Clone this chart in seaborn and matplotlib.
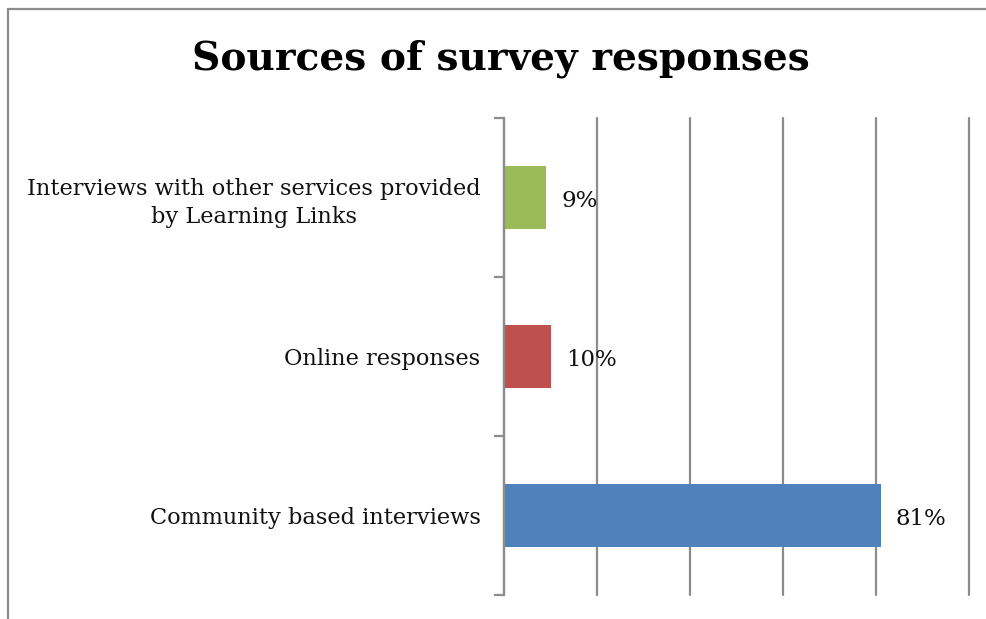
import matplotlib
matplotlib.use("Agg")
import matplotlib.pyplot as plt
from matplotlib.lines import Line2D
from matplotlib.ticker import MultipleLocator, FixedLocator
import seaborn as sns
import pandas as pd

categories = [
    "Interviews with other services provided\nby Learning Links",
    "Online responses",
    "Community based interviews",
]
shares = [9, 10, 81]
bar_colors = ["#9BBB59", "#C0504D", "#4F81BD"]
title = "Sources of survey responses"

df = pd.DataFrame({"source": categories, "share": shares})

sns.set_theme(style="white")
plt.rcParams["font.family"] = ["DejaVu Serif", "Liberation Serif"]

fig = plt.figure(figsize=(9.86, 6.19), dpi=100)
ax = fig.add_axes([504 / 986, 1 - 595 / 619, 465 / 986, 477 / 619])

sns.barplot(data=df, x="share", y="source", hue="source", palette=bar_colors,
            width=0.4, legend=False, ax=ax, saturation=1, linewidth=0)

ax.set_xlim(0, 100)
ax.set_ylim(2.5, -0.5)
ax.xaxis.set_major_locator(MultipleLocator(20))
ax.grid(axis="x", color="#8c8c8c", linewidth=1.6)
for gl in ax.get_xgridlines():
    gl.set_clip_on(False)
ax.grid(axis="y", visible=False)
ax.set_axisbelow(True)
ax.set_xticklabels([])
ax.tick_params(axis="x", length=0)
ax.set_xlabel("")
ax.set_ylabel("")

for side in ("top", "right", "bottom"):
    ax.spines[side].set_visible(False)
ax.spines["left"].set_color("#8c8c8c")
ax.spines["left"].set_linewidth(1.6)

ax.yaxis.set_minor_locator(FixedLocator([-0.5, 0.5, 1.5, 2.5]))
ax.tick_params(axis="y", which="major", length=0, pad=17, labelsize=16.2, labelcolor="#111111")
ax.tick_params(axis="y", which="minor", length=7, width=1.6, color="#8c8c8c", left=True)
for lbl in ax.get_yticklabels():
    lbl.set_multialignment("center")
    lbl.set_linespacing(1.35)

for i, v in enumerate(shares):
    ax.text(v + 3.3, i + 0.02, f"{v}%", va="center", ha="left", fontsize=16.5, color="#111111")

fig.text(0.508, 0.905, title, ha="center", va="center", fontsize=28.2,
         fontweight="bold", color="black")

# outer chart frame (top and left edges)
fig.add_artist(Line2D([8 / 986, 8 / 986], [0, 1 - 9 / 619], transform=fig.transFigure,
                      color="#8c8c8c", linewidth=1.6))
fig.add_artist(Line2D([8 / 986, 1], [1 - 9 / 619, 1 - 9 / 619], transform=fig.transFigure,
                      color="#8c8c8c", linewidth=1.6))

fig.savefig("out.png", dpi=100, facecolor="white")
